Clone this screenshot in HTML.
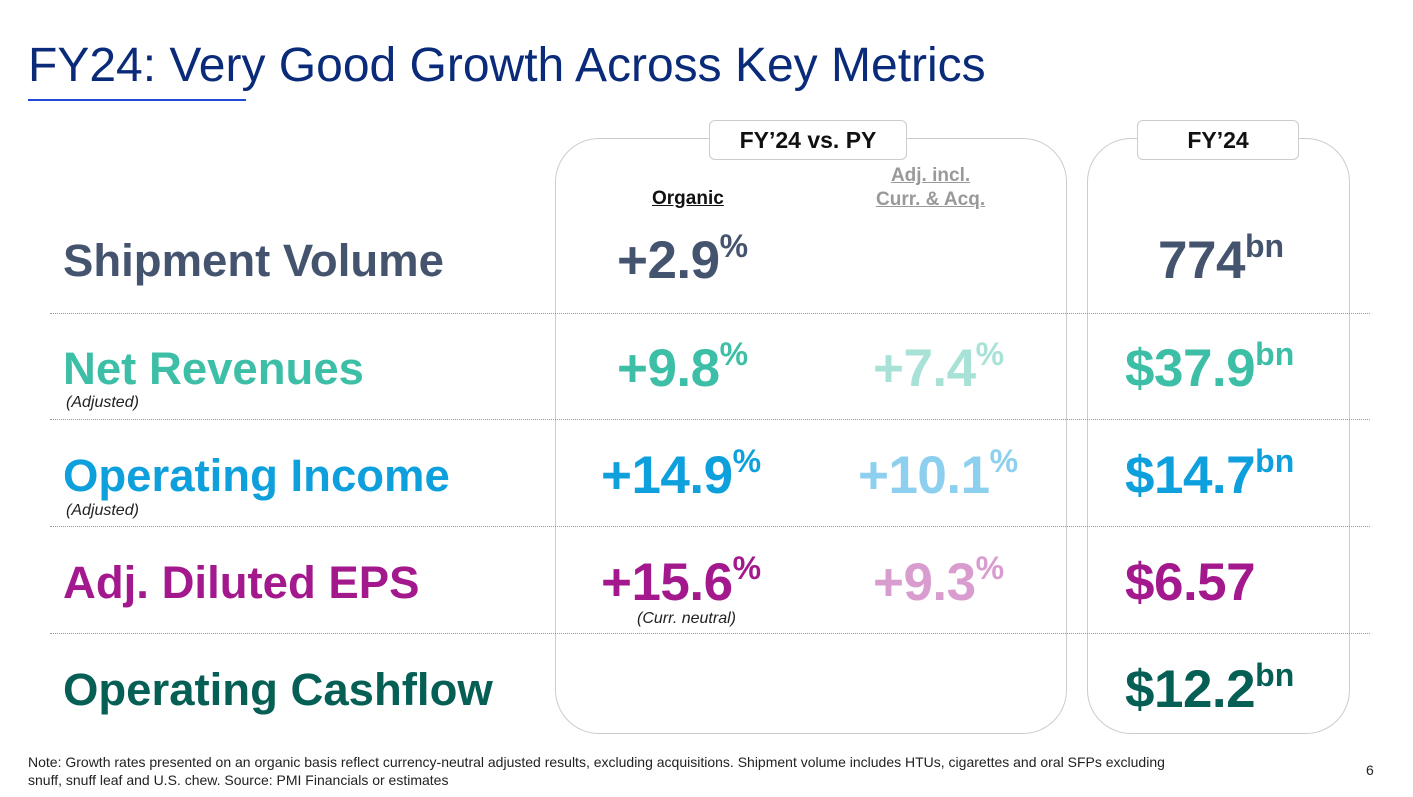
<!DOCTYPE html>
<html><head><meta charset="utf-8"><style>
body{margin:0;width:1413px;height:797px;background:#fff;font-family:"Liberation Sans",sans-serif;position:relative;overflow:hidden}
.a{position:absolute;white-space:nowrap}
.lbl{font-weight:bold;font-size:45.5px}
.sub{font-style:italic;font-size:16px;color:#222}
.num{font-weight:bold;font-size:53px;letter-spacing:-0.5px}
.num sup{font-size:32px;vertical-align:0;position:relative;top:-21px;letter-spacing:0}
.sep{position:absolute;left:50px;width:1320px;border-top:1.5px dotted #999;height:0}
.box{position:absolute;border:1.5px solid #ccc;border-radius:44px}
.tag{position:absolute;background:#fff;border:1.5px solid #ccc;border-radius:6px;font-weight:bold;font-size:23px;text-align:center;color:#111}
</style></head><body>
<div class="a" style="left:28px;top:38px;font-size:48px;color:#0a2a7a">FY24: Very Good Growth Across Key Metrics</div>
<div class="a" style="left:28px;top:99px;width:218px;height:2px;background:#1f4bd8"></div>

<div class="box" style="left:555px;top:138px;width:510px;height:594px"></div>
<div class="box" style="left:1087px;top:138px;width:261px;height:594px"></div>
<div class="tag" style="left:709px;top:120px;width:196px;height:38px;line-height:38px">FY’24 vs. PY</div>
<div class="tag" style="left:1137px;top:120px;width:160px;height:38px;line-height:38px">FY’24</div>

<div class="a" style="left:652px;top:188px;font-size:19px;font-weight:bold;color:#111;text-decoration:underline">Organic</div>
<div class="a" style="left:876px;top:164px;font-size:19px;font-weight:bold;color:#999;text-align:center;line-height:24px;text-decoration:underline">Adj. incl.<br>Curr. &amp; Acq.</div>

<div class="a lbl" style="left:63px;top:235px;color:#45546e">Shipment Volume</div>
<div class="a num" style="left:617px;top:230px;color:#45546e">+2.9<sup>%</sup></div>
<div class="a num" style="left:1158px;top:230px;color:#45546e">774<sup>bn</sup></div>
<div class="sep" style="top:313px"></div>

<div class="a lbl" style="left:63px;top:343px;color:#3cbfa6">Net Revenues</div>
<div class="a sub" style="left:66px;top:394px">(Adjusted)</div>
<div class="a num" style="left:617px;top:338px;color:#3cbfa6">+9.8<sup>%</sup></div>
<div class="a num" style="left:873px;top:338px;color:#a8e2d6">+7.4<sup>%</sup></div>
<div class="a num" style="left:1125px;top:338px;color:#3cbfa6">$37.9<sup>bn</sup></div>
<div class="sep" style="top:419px"></div>

<div class="a lbl" style="left:63px;top:450px;color:#0ea0dc">Operating Income</div>
<div class="a sub" style="left:66px;top:502px">(Adjusted)</div>
<div class="a num" style="left:601px;top:445px;color:#0ea0dc">+14.9<sup>%</sup></div>
<div class="a num" style="left:858px;top:445px;color:#8ccfee">+10.1<sup>%</sup></div>
<div class="a num" style="left:1125px;top:445px;color:#0ea0dc">$14.7<sup>bn</sup></div>
<div class="sep" style="top:526px"></div>

<div class="a lbl" style="left:63px;top:557px;color:#a3198d">Adj. Diluted EPS</div>
<div class="a num" style="left:601px;top:552px;color:#a3198d">+15.6<sup>%</sup></div>
<div class="a sub" style="left:637px;top:610px">(Curr. neutral)</div>
<div class="a num" style="left:873px;top:552px;color:#d99ccf">+9.3<sup>%</sup></div>
<div class="a num" style="left:1125px;top:552px;color:#a3198d">$6.57</div>
<div class="sep" style="top:633px"></div>

<div class="a lbl" style="left:63px;top:664px;color:#065f55">Operating Cashflow</div>
<div class="a num" style="left:1125px;top:659px;color:#065f55">$12.2<sup>bn</sup></div>

<div class="a" style="left:28px;top:753px;font-size:14px;color:#222;line-height:18px">Note: Growth rates presented on an organic basis reflect currency-neutral adjusted results, excluding acquisitions. Shipment volume includes HTUs, cigarettes and oral SFPs excluding<br>snuff, snuff leaf and U.S. chew. Source: PMI Financials or estimates</div>
<div class="a" style="left:1366px;top:762px;font-size:14px;color:#222">6</div>
</body></html>
